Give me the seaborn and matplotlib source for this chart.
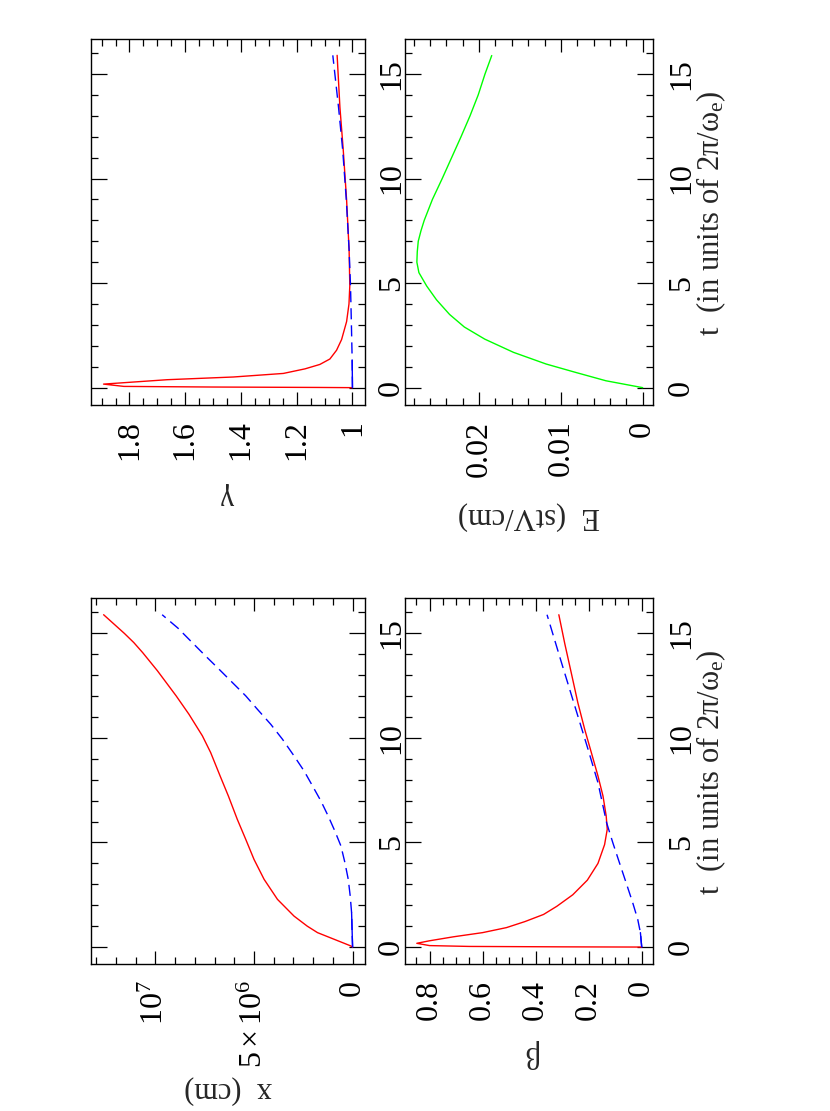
import matplotlib
matplotlib.use("Agg")
import matplotlib.pyplot as plt
import seaborn as sns
from matplotlib.ticker import MultipleLocator, FixedLocator, FixedFormatter, FuncFormatter

# ---------------- data ----------------
# x (cm), in units of 1e7 cm
t_x_red = [0, 0.05, 0.37, 0.69, 1.0, 1.48, 2.28, 3.24, 4.19, 5.15, 6.11, 7.22,
           8.18, 9.3, 10.1, 11.13, 12.01, 13.21, 14.08, 14.56, 15.0, 15.89]
x_red = [0, 0.008, 0.093, 0.178, 0.23, 0.297, 0.381, 0.449, 0.50, 0.542, 0.585,
         0.63, 0.672, 0.72, 0.762, 0.83, 0.895, 0.99, 1.065, 1.11, 1.158, 1.263]
t_x_blue = [0, 1.64, 2.44, 3.24, 4.04, 4.83, 5.55, 6.27, 6.99, 7.70, 8.42, 9.14,
            9.94, 10.65, 11.37, 12.01, 12.65, 13.29, 13.92, 14.64, 15.25, 15.89]
x_blue = [0, 0.005, 0.012, 0.022, 0.039, 0.059, 0.09, 0.124, 0.161, 0.203, 0.246,
          0.297, 0.356, 0.415, 0.483, 0.542, 0.61, 0.678, 0.746, 0.822, 0.886, 0.966]

# gamma
t_g_red = [0, 0.01, 0.03, 0.06, 0.17, 0.38, 0.51, 0.68, 0.9, 1.11, 1.37, 1.79,
           2.3, 3.16, 4.0, 4.87, 6.58, 8.97, 11.36, 13.41, 15.89]
g_red = [1.0, 1.12, 1.5, 1.82, 1.893, 1.665, 1.427, 1.248, 1.17, 1.117, 1.081,
         1.057, 1.039, 1.021, 1.0125, 1.0095, 1.012, 1.021, 1.033, 1.045, 1.055]
t_g_blue = [0, 1.3, 3.16, 4.87, 6.58, 8.97, 11.36, 13.41, 15.89]
g_blue = [1.0, 1.001, 1.004, 1.007, 1.012, 1.022, 1.035, 1.05, 1.0705]

# beta
t_b_red = [0, 0.01, 0.03, 0.07, 0.18, 0.3, 0.49, 0.69, 0.93, 1.22, 1.56, 1.95,
           2.5, 3.2, 4.0, 4.9, 5.63, 6.27, 7.22, 8.18, 9.3, 10.41, 11.69, 13.13,
           14.5, 15.89]
b_red = [0, 0.3, 0.65, 0.80, 0.848, 0.80, 0.71, 0.60, 0.51, 0.44, 0.37, 0.32,
         0.26, 0.205, 0.165, 0.14, 0.13, 0.134, 0.146, 0.165, 0.19, 0.215, 0.241,
         0.266, 0.29, 0.3125]
t_b_blue = [0, 0.69, 1.32, 2.12, 3.08, 4.03, 4.99, 5.95, 7.86, 9.46, 11.53, 13.6,
            15.89]
b_blue = [0, 0.005, 0.015, 0.034, 0.059, 0.084, 0.109, 0.1325, 0.165, 0.2025,
          0.2525, 0.3025, 0.357]

# E (stV/cm)
t_E = [0, 0.33, 0.73, 1.13, 1.69, 2.32, 2.9, 3.5, 4.2, 4.86, 5.5, 6.0, 6.5, 7.0,
       7.5, 8.0, 9.0, 10.0, 11.0, 12.0, 13.0, 14.0, 15.0, 15.88]
E_vals = [0, 0.0045, 0.0082, 0.0118, 0.0158, 0.0193, 0.0218, 0.0236, 0.0252,
          0.0264, 0.02735, 0.0276, 0.02755, 0.02743, 0.0271, 0.0267, 0.0257,
          0.0245, 0.02335, 0.0222, 0.0211, 0.0201, 0.01927, 0.01845]

# tick labels of the x (cm) axis (values in 1e7 cm)
x_ticks = [0, 0.5, 1.0]
x_ticklabels = ["0", r"$5\times10^{6}$", r"$10^{7}$"]

# ---------------- style ----------------
sns.set_theme(style="ticks")
plt.rcParams["font.family"] = ["Liberation Serif", "DejaVu Serif"]
plt.rcParams["mathtext.fontset"] = "custom"
plt.rcParams["mathtext.rm"] = "Liberation Serif"
plt.rcParams["mathtext.it"] = "Liberation Serif:italic"
plt.rcParams["mathtext.bf"] = "Liberation Serif:bold"

RED, BLUE, GREEN = "#ff0000", "#0000ff", "#00ff00"
LW = 1.0
DASH = (0, (8, 4.3))
TICK_FS = 23
LAB_FS = 22

W, H = 830, 1111
fig = plt.figure(figsize=(W / 100, H / 100), dpi=100)


def add_ax(x0, y0, x1, y1):
    return fig.add_axes([x0 / W, 1 - y1 / H, (x1 - x0) / W, (y1 - y0) / H])


ax_g = add_ax(91, 38.6, 365, 404.6)
ax_x = add_ax(91, 598, 365, 964)
ax_E = add_ax(405, 38.6, 653, 404.6)
ax_b = add_ax(405, 598, 653, 964)


def fmt_plain(v, pos):
    s = ("%.3f" % v).rstrip("0").rstrip(".")
    return "0" if s in ("-0", "") else s


def style(ax, xlim, major, minor, label, label_y, ypad):
    ax.set_ylim(-0.81, 16.69)
    ax.set_xlim(*xlim)
    ax.yaxis.set_major_locator(MultipleLocator(5))
    ax.yaxis.set_minor_locator(MultipleLocator(1))
    if major is not None:
        ax.xaxis.set_major_locator(MultipleLocator(major))
        ax.xaxis.set_major_formatter(FuncFormatter(fmt_plain))
    ax.xaxis.set_minor_locator(MultipleLocator(minor))
    ax.yaxis.set_major_formatter(FuncFormatter(fmt_plain))
    ax.tick_params(which="both", direction="in", top=True, bottom=True,
                   left=True, right=True, labelleft=False, labelright=True,
                   labelbottom=True, labeltop=False, color="black", width=0.9,
                   labelcolor="black")
    ax.tick_params(axis="x", which="major", length=9.6)
    ax.tick_params(axis="x", which="minor", length=4.8)
    ax.tick_params(axis="y", which="major", length=11.3)
    ax.tick_params(axis="y", which="minor", length=5.3)
    ax.tick_params(axis="x", which="major", labelrotation=90, pad=11.5,
                   labelsize=TICK_FS)
    ax.tick_params(axis="y", which="major", labelrotation=90, pad=ypad,
                   labelsize=TICK_FS)
    for sp in ax.spines.values():
        sp.set_linewidth(1.0)
        sp.set_color("black")
    ax.set_xlabel(label, rotation=180, fontsize=LAB_FS)
    ax.xaxis.set_label_coords(0.5, label_y)
    ax.xaxis.label.set_va("center")
    ax.xaxis.label.set_ha("center")
    ax.set_ylabel("")
    ax.grid(False)


def line(ax, xv, tv, color, dashed=False):
    kw = dict(linestyle=DASH) if dashed else {}
    sns.lineplot(x=xv, y=tv, sort=False, estimator=None, orient="y",
                 color=color, lw=LW, ax=ax, **kw)


# ---- gamma panel ----
line(ax_g, g_red, t_g_red, RED)
line(ax_g, g_blue, t_g_blue, BLUE, dashed=True)
line(ax_g, g_blue[:2], t_g_blue[:2], BLUE)
style(ax_g, (1.938, 0.955), 0.2, 0.05, "γ", -0.251, 8.6)

# ---- x panel ----
line(ax_x, x_red, t_x_red, RED)
line(ax_x, x_blue, t_x_blue, BLUE, dashed=True)
line(ax_x, x_blue[:2], t_x_blue[:2], BLUE)
style(ax_x, (1.327, -0.063), None, 0.1, "x  (cm)", -0.344, 8.6)
ax_x.xaxis.set_major_locator(FixedLocator(x_ticks))
ax_x.xaxis.set_major_formatter(FixedFormatter(x_ticklabels))

# ---- E panel ----
line(ax_E, E_vals, t_E, GREEN)
style(ax_E, (0.02905, -0.00126), 0.01, 0.002, "E  (stV/cm)", -0.304, 10)

# ---- beta panel ----
line(ax_b, b_red, t_b_red, RED)
line(ax_b, b_blue, t_b_blue, BLUE, dashed=True)
line(ax_b, b_blue[:2], t_b_blue[:2], BLUE)
style(ax_b, (0.8925, -0.0425), 0.2, 0.05, "β", -0.245, 10)

# t labels (right column only)
tlab = r"t  (in units of 2π/ω$_{\mathrm{e}}$)"
for ax in (ax_E, ax_b):
    ax.yaxis.set_label_position("right")
    ax.set_ylabel(tlab, rotation=90, fontsize=LAB_FS)
    ax.yaxis.set_label_coords(1.234, 0.523)
    ax.yaxis.label.set_va("center")
    ax.yaxis.label.set_ha("center")

for ax in (ax_g, ax_x, ax_E, ax_b):
    for lbl in ax.get_yticklabels():
        lbl.set_va("center")
        lbl.set_ha("left")
    for lbl in ax.get_xticklabels():
        lbl.set_ha("center")
        lbl.set_va("top")

fig.savefig("out.png", dpi=100)
